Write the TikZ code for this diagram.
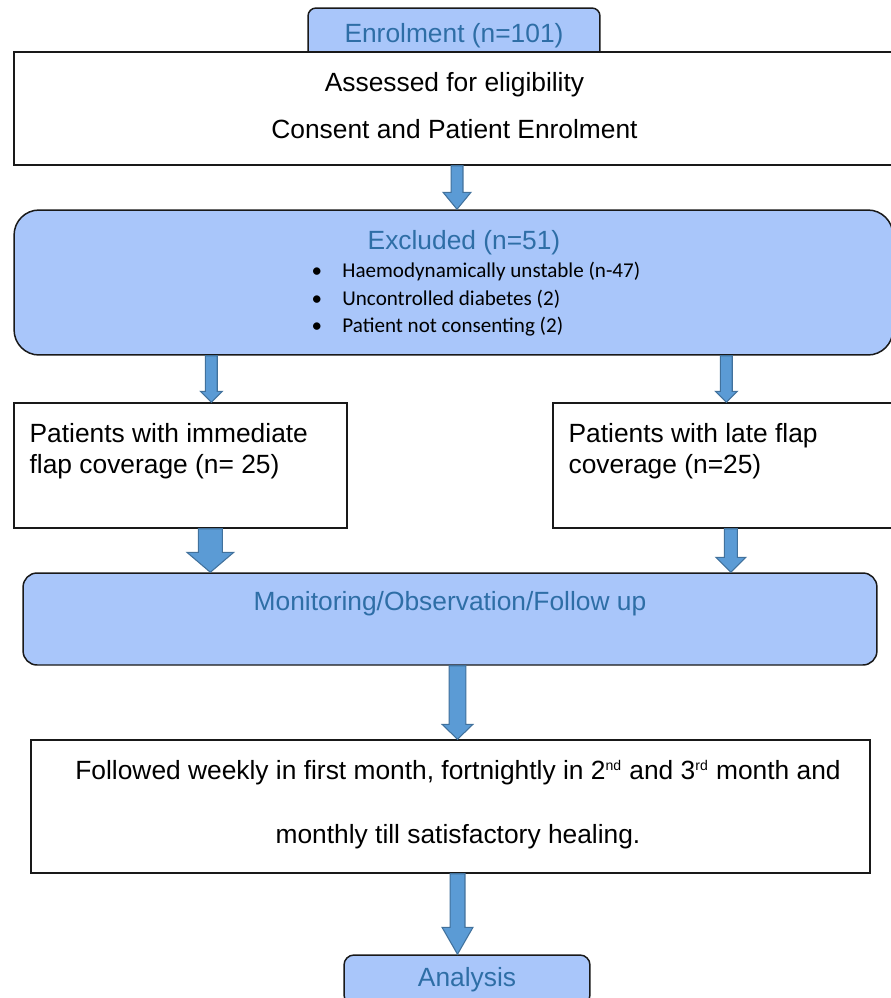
\documentclass[tikz,border=0pt]{standalone}
\usepackage{fontspec}
\setmainfont{Liberation Sans}
\newfontfamily\calibri{Carlito}
\usepackage{tikz}
\usetikzlibrary{positioning,calc}
\definecolor{boxblue}{RGB}{169,198,250}
\definecolor{titleblue}{RGB}{46,110,166}
\definecolor{arrowblue}{RGB}{91,155,213}
\definecolor{arrowedge}{RGB}{65,113,156}
\newcommand{\px}{0.5669pt}
% block arrow: tail y from #1, tip at #2, half shaft, half head, head length (px)
\newcommand{\blockarrow}[5]{%
  \draw[blockarrow] let \p1=(#1), \p2=(#2) in
    (\x2-#3*\px,\y1) -- (\x2+#3*\px,\y1) -- (\x2+#3*\px,\y2+#5*\px)
    -- (\x2+#4*\px,\y2+#5*\px) -- (\x2,\y2) -- (\x2-#4*\px,\y2+#5*\px)
    -- (\x2-#3*\px,\y2+#5*\px) -- cycle;}

\begin{document}
\begin{tikzpicture}[x=0.02cm, y=-0.02cm,
    font=\fontsize{15}{18.1}\selectfont,
    plainbox/.style={draw=black!90, line width=0.85pt, fill=white, inner sep=0pt},
    bluebox/.style={plainbox, fill=boxblue, rounded corners=#1},
    bluebox/.default=0.28cm,
    titletext/.style={text=titleblue, inner sep=0pt},
    sidetext/.style={align=left, inner sep=0pt, anchor=west},
    listtext/.style={align=left, inner sep=0pt, anchor=west, font=\calibri\fontsize{12}{15.6}\selectfont},
    blockarrow/.style={fill=arrowblue, draw=arrowedge, line width=0.6pt, line join=miter}]
  \path[use as bounding box, fill=white] (0,0) rectangle (891,998);

  % enrolment
  \node[bluebox=0.16cm, minimum width=5.84cm, minimum height=1.12cm, text=titleblue] (enrol) at (454,36) {Enrolment (n=101)};
  \node[plainbox, minimum width=17.62cm, minimum height=2.26cm, align=center, text depth=3.2pt, font=\fontsize{15}{26.8}\selectfont] (assess) at (454.5,108.5)
    {Assessed for eligibility\\Consent and Patient Enrolment};

  % exclusions
  \node[bluebox=0.5cm, minimum width=17.58cm, minimum height=2.9cm] (excl) at (453.5,282.5) {};
  \node[titletext] (excltitle) at ($(excl.north)+(10.5,33)$) {Excluded (n=51)};
  \node[listtext] (excllist) at ($(excl.north west)+(298,90)$)
    {\textbullet\hspace{11.5pt}Haemodynamically unstable (n-47)\\
     \textbullet\hspace{11.5pt}Uncontrolled diabetes (2)\\
     \textbullet\hspace{11.5pt}Patient not consenting (2)};

  % two groups
  \node[plainbox, minimum width=6.66cm, minimum height=2.5cm] (left) at (180.5,465.5) {};
  \node[sidetext] (lefttext) at ($(left.north west)+(16,49)$) {Patients with immediate\\flap coverage (n= 25)};
  \node[plainbox, minimum width=6.84cm, minimum height=2.5cm] (right) at (724,465.5) {};
  \node[sidetext] (righttext) at ($(right.north west)+(16,49)$) {Patients with late flap\\coverage (n=25)};

  % follow up
  \node[bluebox, minimum width=17.08cm, minimum height=1.84cm] (monitor) at (450,619) {};
  \node[titletext] (monitortext) at ($(monitor.north)+(0,31)$) {Monitoring/Observation/Follow up};
  \node[plainbox, minimum width=16.78cm, minimum height=2.66cm] (follow) at (450.5,806.5) {};
  \node[align=center, inner sep=0pt, font=\fontsize{15}{36.2}\selectfont] (followtext) at ($(follow.center)+(7.5,-2)$)
    {Followed weekly in first month, fortnightly in 2\textsuperscript{\fontsize{8}{8}\selectfont nd} and 3\textsuperscript{\fontsize{8}{8}\selectfont rd} month and\\
     monthly till satisfactory healing.};
  \node[bluebox=0.2cm, minimum width=4.92cm, minimum height=1.0cm, text=titleblue] (analysis) at (467,980) {Analysis};

  % arrows
  \blockarrow{assess.south}{$(excl.north)+(3.5,0)$}{6}{14}{17}
  \blockarrow{excl.south}{$(left.north west)+(198,0)$}{6}{11}{11}
  \blockarrow{excl.south}{$(right.north west)+(174,0)$}{6}{11}{11}
  \blockarrow{left.south}{$(monitor.north west)+(188,0)$}{12}{23.5}{20}
  \blockarrow{right.south}{$(monitor.north west)+(708.5,0)$}{6.5}{15}{15}
  \blockarrow{monitor.south}{$(follow.north)+(7,0)$}{8.5}{15.5}{15}
  \blockarrow{follow.south}{$(analysis.north)+(-9.5,0)$}{7.5}{15.5}{27}
\end{tikzpicture}
\end{document}
